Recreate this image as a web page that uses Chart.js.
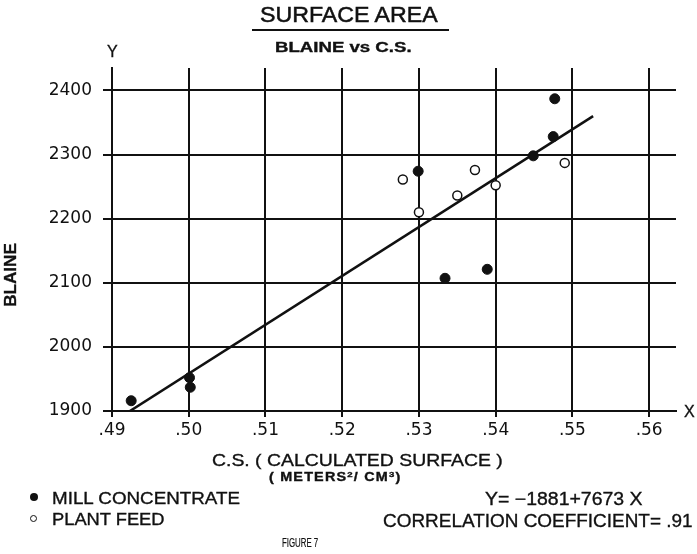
<!DOCTYPE html>
<html><head><meta charset="utf-8">
<script src="https://cdn.jsdelivr.net/npm/chart.js@4/dist/chart.umd.min.js"></script>
<style>
html,body{margin:0;padding:0;background:#fff;}
#wrap{position:relative;width:697px;height:554px;overflow:hidden;background:#fff;font-family:"Liberation Sans",Arial,sans-serif;color:#111;}
canvas{position:absolute;left:0;top:0;}
.t{position:absolute;white-space:nowrap;line-height:1;transform-origin:0 0;-webkit-text-stroke:0.35px #111;}
</style></head><body>
<div id="wrap">
<canvas id="c" width="697" height="554"></canvas>
<div class="t" data-w="178" style="left:260px;top:4px;font-size:22px;-webkit-text-stroke:0.5px #111;">SURFACE AREA</div>
<div style="position:absolute;left:252px;top:29px;width:197px;height:2px;background:#111;"></div>
<div class="t" data-w="137" style="left:275px;top:40px;font-size:14px;font-weight:bold;">BLAINE vs C.S.</div>
<div class="t" style="left:107px;top:44px;font-size:16px;">Y</div>
<div class="t" style="left:684px;top:404px;font-size:16px;">X</div>
<div class="t" id="blaine" style="font-size:16px;font-weight:bold;">BLAINE</div>
<div class="t" data-w="291" style="left:212px;top:452px;font-size:17px;">C.S. ( CALCULATED SURFACE )</div>
<div class="t" data-w="133" style="left:269px;top:471px;font-size:12px;font-weight:bold;letter-spacing:1px;">( METERS<sup style="font-size:8px;vertical-align:4px;">2</sup>/ CM<sup style="font-size:8px;vertical-align:4px;">3</sup>)</div>
<div style="position:absolute;left:30px;top:493px;width:8px;height:8px;border-radius:50%;background:#111;"></div>
<div style="position:absolute;left:30px;top:515px;width:5px;height:5px;border-radius:50%;border:1.5px solid #111;"></div>
<div class="t" data-w="188" style="left:52px;top:490px;font-size:17px;">MILL CONCENTRATE</div>
<div class="t" data-w="113" style="left:52px;top:511px;font-size:17px;">PLANT FEED</div>
<div class="t" data-w="158" style="left:485px;top:490px;font-size:18px;">Y= −1881+7673 X</div>
<div class="t" data-w="310" style="left:383px;top:511px;font-size:19px;">CORRELATION COEFFICIENT= .91</div>
<div class="t" data-w="36" style="left:282px;top:537px;font-size:12px;-webkit-text-stroke:0.2px #111;">FIGURE 7</div>
</div>
<script>
const xTicks = [0.49, 0.50, 0.51, 0.52, 0.53, 0.54, 0.55, 0.56];
const xTickLabels = ['.49', '.50', '.51', '.52', '.53', '.54', '.55', '.56'];
const yTicks = [1900, 2000, 2100, 2200, 2300, 2400];
const yTickLabels = ['1900', '2000', '2100', '2200', '2300', '2400'];
const millX = [0.5477, 0.5475, 0.5449, 0.5299, 0.5334, 0.5389, 0.4925, 0.5001, 0.5002];
const millY = [2387, 2328, 2298, 2274, 2107, 2121, 1916, 1952, 1937];
const feedX = [0.5279, 0.5300, 0.5350, 0.5373, 0.5400, 0.5490];
const feedY = [2261, 2210, 2236, 2276, 2252, 2287];
const fitX = [0.4913, 0.5527];
const fitY = [1892, 2360];

const pts = (xs, ys) => xs.map((x, i) => ({x: x, y: ys[i]}));
const ink = '#111';
const tickFont = {family: '"DejaVu Sans", sans-serif', size: 17};

new Chart(document.getElementById('c'), {
  type: 'scatter',
  data: {datasets: [
    {label: 'MILL CONCENTRATE', data: pts(millX, millY), pointRadius: 5, pointBackgroundColor: ink, pointBorderColor: ink, pointBorderWidth: 1, order: 0},
    {label: 'PLANT FEED', data: pts(feedX, feedY), pointRadius: 4.5, pointBackgroundColor: '#fff', pointBorderColor: ink, pointBorderWidth: 1.5, order: 0},
    {label: 'fit', type: 'line', data: pts(fitX, fitY), showLine: true, borderColor: ink, borderWidth: 2.5, pointRadius: 0, fill: false, order: 1}
  ]},
  options: {
    responsive: false, animation: false, devicePixelRatio: 1,
    layout: {padding: {top: 68, right: 21, left: 0, bottom: 0}},
    plugins: {legend: {display: false}, tooltip: {enabled: false}},
    scales: {
      x: {
        type: 'linear', min: 0.49, max: 0.5635,
        afterBuildTicks: s => { s.ticks = xTicks.map(v => ({value: v})); },
        afterFit: s => { s.height = 143; },
        ticks: {autoSkip: false, maxRotation: 0, padding: 3, color: ink, font: tickFont,
          callback: (v, i) => xTickLabels[i]},
        grid: {color: ink, lineWidth: 2, tickLength: 6},
        border: {display: true, color: ink, width: 2}
      },
      y: {
        type: 'linear', min: 1900, max: 2435,
        afterBuildTicks: s => { s.ticks = yTicks.map(v => ({value: v})); },
        afterFit: s => { s.width = 112; },
        ticks: {autoSkip: false, padding: 11, color: ink, font: tickFont,
          callback: (v, i) => yTickLabels[i]},
        grid: {color: ink, lineWidth: 2, tickLength: 9},
        border: {display: true, color: ink, width: 2}
      }
    }
  }
});

function fitText() {
  document.querySelectorAll('.t[data-w]').forEach(el => {
    el.style.transform = '';
    const w = el.offsetWidth;
    const target = parseFloat(el.dataset.w);
    if (w > 0) el.style.transform = 'scaleX(' + (target / w) + ')';
  });
  const b = document.getElementById('blaine');
  b.style.transform = '';
  const bw = b.offsetWidth, bh = b.offsetHeight;
  const s = 64 / bw;
  b.style.transformOrigin = '50% 50%';
  b.style.left = (11 - bw / 2) + 'px';
  b.style.top = (275 - bh / 2) + 'px';
  b.style.transform = 'rotate(-90deg) scaleX(' + s + ')';
}
fitText();
if (document.fonts && document.fonts.ready) document.fonts.ready.then(fitText);
</script>
</body></html>
